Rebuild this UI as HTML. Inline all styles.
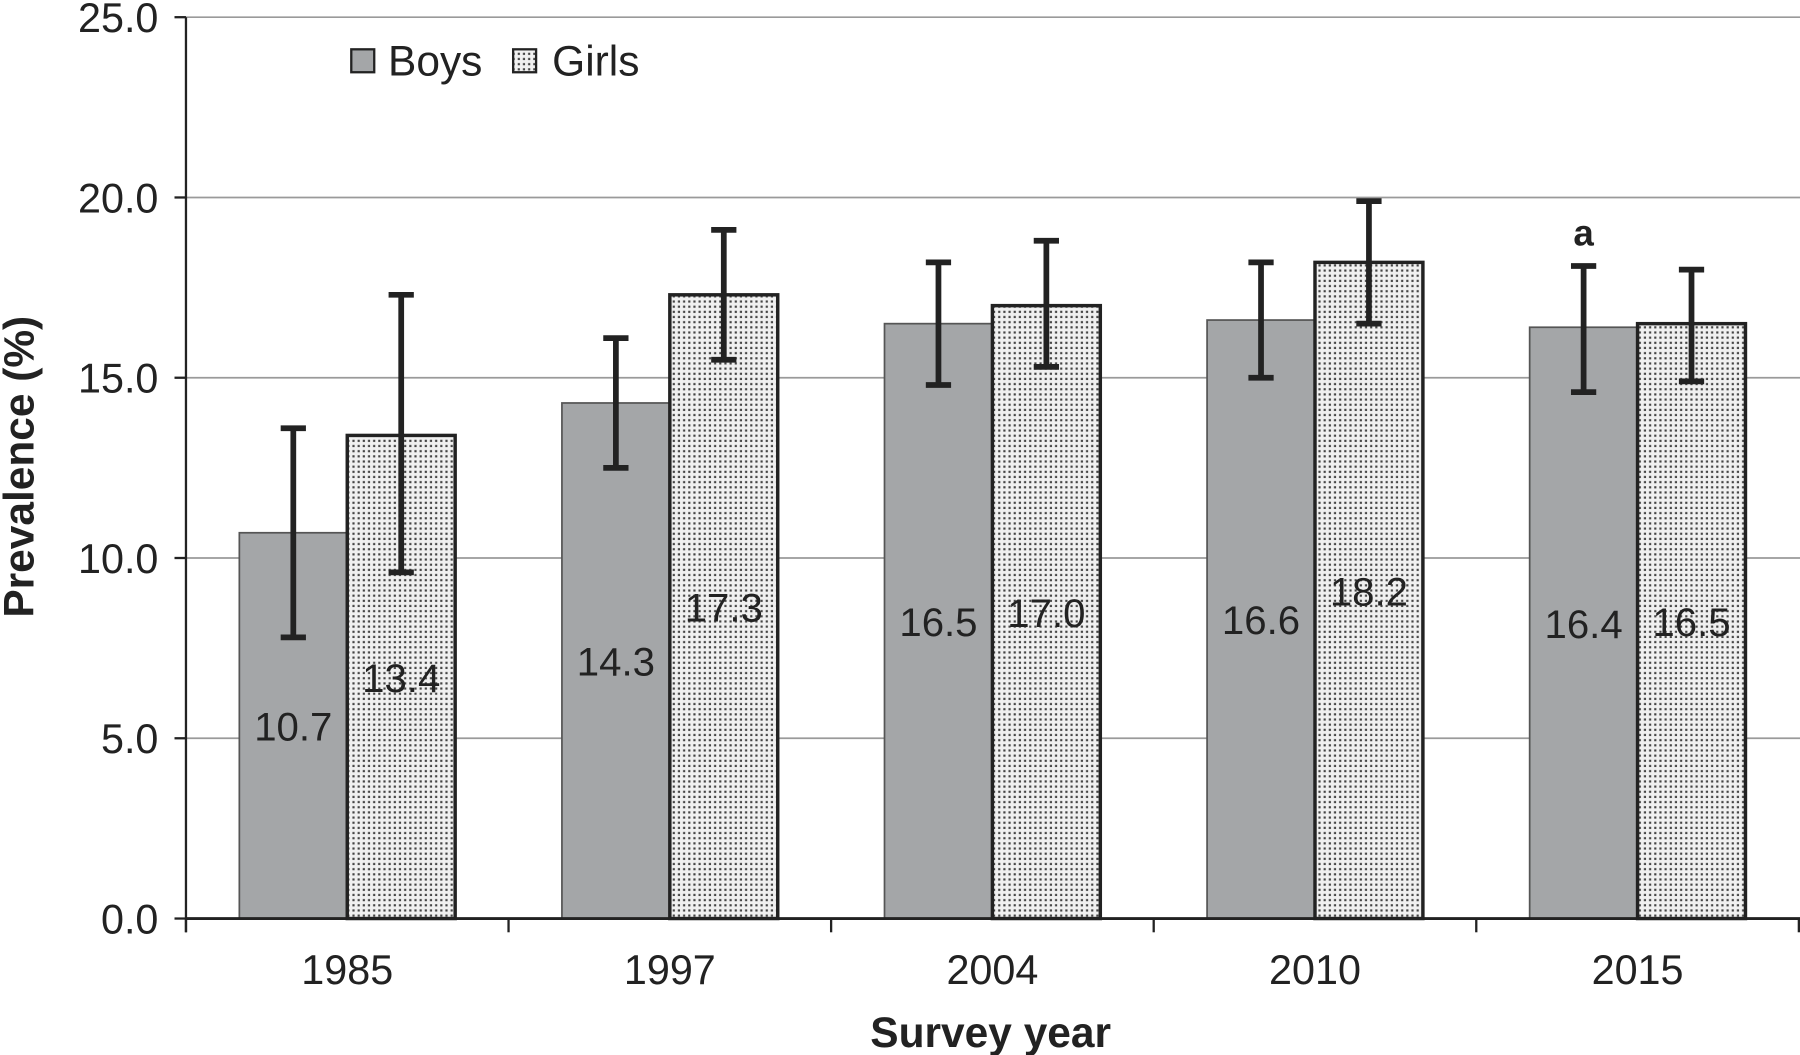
<!DOCTYPE html>
<html><head><meta charset="utf-8"><style>
html,body{margin:0;padding:0;background:#fff}
svg{display:block}
text{font-family:"Liberation Sans",Arial,sans-serif;fill:#222}
</style></head><body>
<svg id="chart" width="1800" height="1055" viewBox="0 0 1568 920" preserveAspectRatio="none" xmlns="http://www.w3.org/2000/svg">
<defs>
<pattern id="dots" width="4.5" height="4.5" patternUnits="userSpaceOnUse">
<rect width="4.5" height="4.5" fill="#f0f0f0"/>
<rect x="1" y="1" width="1.9" height="1.9" fill="#444"/>
</pattern>
</defs>
<g id="grid"></g>
<g id="bars"></g>
<g id="axes"></g>
<g id="legend">
<rect x="306" y="43" width="20" height="20" fill="#a4a6a8" stroke="#222" stroke-width="2"/>
<text x="338" y="66" font-size="37">Boys</text>
<rect x="447" y="43" width="20" height="20" fill="url(#dots)" stroke="#222" stroke-width="2"/>
<text x="481" y="66" font-size="37">Girls</text>
</g>
<text transform="translate(29,407) rotate(-90)" text-anchor="middle" font-size="37" font-weight="bold">Prevalence (%)</text>
<text x="863" y="913" text-anchor="middle" font-size="37" font-weight="bold">Survey year</text>
</svg>
<script>
const categories = ["1985","1997","2004","2010","2015"];
const boys = [10.7,14.3,16.5,16.6,16.4];
const girls = [13.4,17.3,17.0,18.2,16.5];
const boysLow = [7.8,12.5,14.8,15.0,14.6];
const boysHigh = [13.6,16.1,18.2,18.2,18.1];
const girlsLow = [9.6,15.5,15.3,16.5,14.9];
const girlsHigh = [17.3,19.1,18.8,19.9,18.0];
const yTicks = [0,5,10,15,20,25];
const annotations = ["","","","","a"];

const NS="http://www.w3.org/2000/svg";
const X0=162, GW=281, BW=94, Y0=801, YTOP=15, YMAX=25;
function y(v){return Y0-(v/YMAX)*(Y0-YTOP);}
function gx(i){return X0+GW*i+GW/2;}
function mk(tag,attrs,parent){const e=document.createElementNS(NS,tag);for(const k in attrs)e.setAttribute(k,attrs[k]);parent.appendChild(e);return e;}
const grid=document.getElementById('grid'), bars=document.getElementById('bars'), axes=document.getElementById('axes');

yTicks.forEach(t=>{
  if(t>0){const g=mk('line',{x1:X0,x2:1568,y1:y(t),y2:y(t),stroke:'#9a9a9a','stroke-width':1.5},grid);
  
  }
  const tk=mk('line',{x1:X0-10,x2:X0,y1:y(t),y2:y(t),stroke:'#222','stroke-width':2},axes);
  
  
  const lb=mk('text',{x:138,y:y(t)+13,'text-anchor':'end','font-size':36},axes);
  lb.textContent=t.toFixed(1);
  
  
});

function errbar(cx,lo,hi){
  const g=mk('g',{},bars);
  
  
  mk('line',{x1:cx,x2:cx,y1:y(lo),y2:y(hi),stroke:'#222','stroke-width':5},g);
  mk('line',{x1:cx-11,x2:cx+11,y1:y(lo),y2:y(lo),stroke:'#222','stroke-width':5},g);
  mk('line',{x1:cx-11,x2:cx+11,y1:y(hi),y2:y(hi),stroke:'#222','stroke-width':5},g);
}
categories.forEach((c,i)=>{
  const cx=gx(i);
  const b=mk('rect',{x:cx-BW,y:y(boys[i]),width:BW,height:Y0-y(boys[i]),fill:'#a4a6a8',stroke:'#555','stroke-width':1.5},bars);
  
  
  const g=mk('rect',{x:cx,y:y(girls[i]),width:BW,height:Y0-y(girls[i]),fill:'url(#dots)',stroke:'#222','stroke-width':3},bars);
  
  
  const bl=mk('text',{x:cx-BW/2,y:y(boys[i]/2)+13,'text-anchor':'middle','font-size':35},bars);
  bl.textContent=boys[i].toFixed(1);
  
  
  const gl=mk('text',{x:cx+BW/2,y:y(girls[i]/2)+13,'text-anchor':'middle','font-size':35},bars);
  gl.textContent=girls[i].toFixed(1);
  
  
  errbar(cx-BW/2,boysLow[i],boysHigh[i]);
  errbar(cx+BW/2,girlsLow[i],girlsHigh[i]);
  if(annotations[i]){const a=mk('text',{x:cx-BW/2,y:y(boysHigh[i])-18,'text-anchor':'middle','font-size':32,'font-weight':'bold'},bars);
  a.textContent=annotations[i];
  
  }
  const xl=mk('text',{x:cx,y:858,'text-anchor':'middle','font-size':36},axes);
  xl.textContent=c;
  
  
});
for(let i=0;i<=categories.length;i++){
  const t=mk('line',{x1:X0+GW*i,x2:X0+GW*i,y1:Y0,y2:Y0+12,stroke:'#222','stroke-width':2},axes);
  
  
}
const ya=mk('line',{x1:X0,x2:X0,y1:YTOP,y2:Y0+12,stroke:'#222','stroke-width':2},axes);


const xa=mk('line',{x1:X0,x2:1568,y1:Y0,y2:Y0,stroke:'#222','stroke-width':2.5},axes);


</script>
</body></html>
